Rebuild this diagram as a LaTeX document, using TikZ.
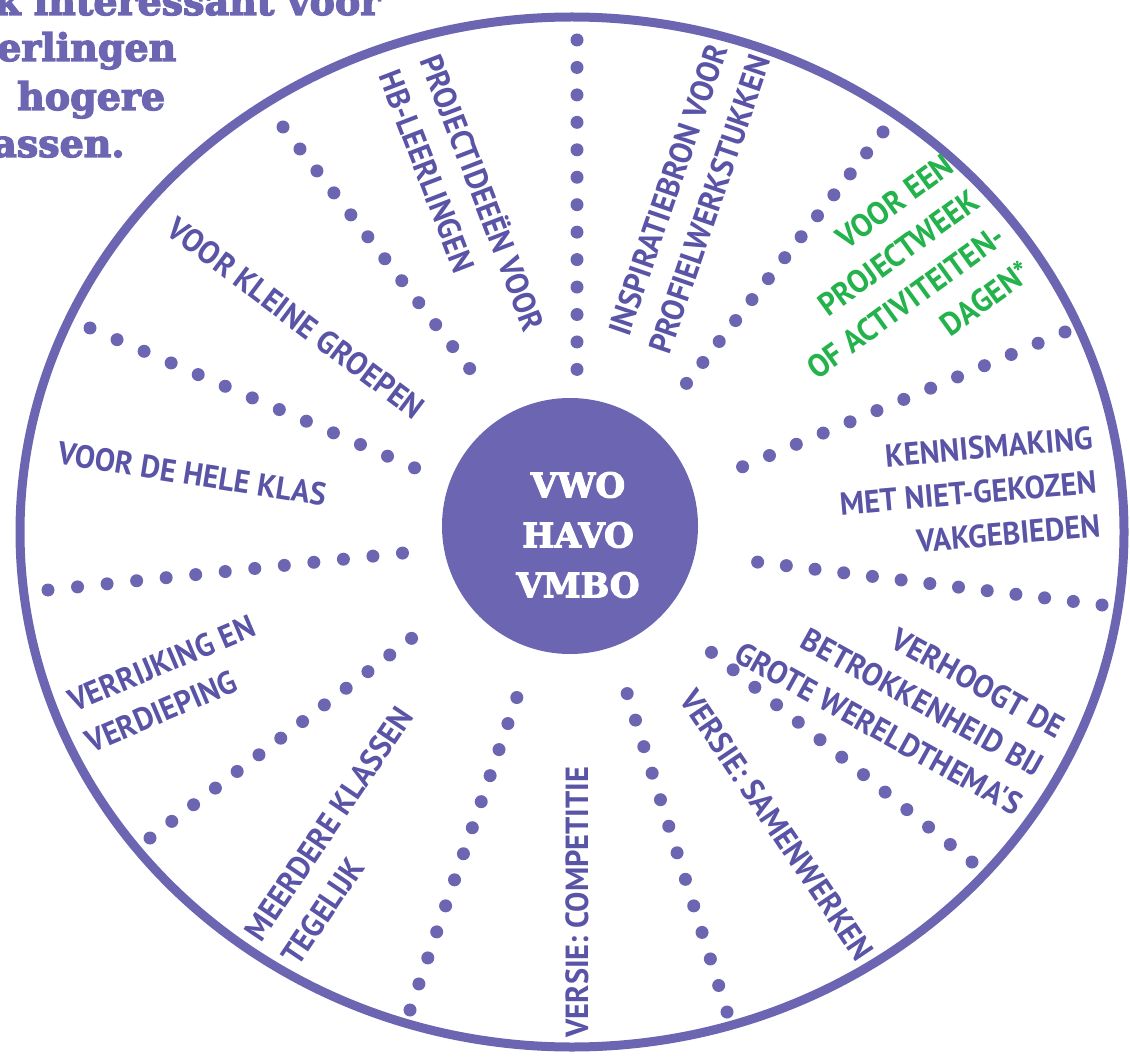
\documentclass[tikz,border=0pt]{standalone}
\usepackage{fontspec}
\usepackage{xcolor}
\usepackage{tikz}
\usetikzlibrary{positioning}
\newfontfamily\labelfont[FakeStretch=0.95]{PT Sans}
\newfontfamily\slabfont[FakeBold=3.5]{DejaVu Serif Bold}
\definecolor{WheelPurple}{HTML}{6B65B2}
\definecolor{WheelInk}{HTML}{5A54A6}
\definecolor{WheelGreen}{HTML}{23B24C}

\begin{document}
\begin{tikzpicture}[
    x=1pt, y=-1pt,
    every node/.style={inner sep=0pt},
    lbl/.style={font=\labelfont\bfseries\fontsize{32}{44}\selectfont,text=WheelInk,align=center},
    head/.style={font=\slabfont\fontsize{38}{48}\selectfont,text=WheelPurple,anchor=base west},
    hub/.style={circle,fill=WheelPurple,minimum size=256pt},
    levels/.style={font=\slabfont\fontsize{34}{50}\selectfont,text=white,align=center},
    rim/.style={draw=WheelPurple,line width=9pt},
    dotray/.style={draw=WheelPurple,line width=13pt,line cap=round,dash pattern=on 0pt off #1}
  ]
  \useasboundingbox (0,0) rectangle (1130,1059);

  % outer rim and hub
  \coordinate (mid) at (572,532);
  \draw[rim] (mid) ellipse [x radius=552pt,y radius=515pt];
  \node[hub] (hub) at (570,526) {};
  \node[levels] (levels) at (578,535) {VWO\\HAVO\\VMBO};

  % spokes
  \coordinate (r1a) at (577,40);   \coordinate (r1b) at (577,370);
  \coordinate (r2a) at (283,127);  \coordinate (r2b) at (470,369);
  \coordinate (r3a) at (90,328);   \coordinate (r3b) at (415,468);
  \coordinate (r4a) at (48,590);   \coordinate (r4b) at (403,553);
  \coordinate (r5a) at (150,838);  \coordinate (r5b) at (412,638);
  \coordinate (r6a) at (410,1010); \coordinate (r6b) at (517,697);
  \coordinate (r7a) at (727,1012); \coordinate (r7b) at (627,693);
  \coordinate (r8a) at (972,862);  \coordinate (r8b) at (711,652);
  \coordinate (r9a) at (1102,605); \coordinate (r9b) at (757,562);
  \coordinate (r10a) at (1065,332); \coordinate (r10b) at (742,467);
  \coordinate (r11a) at (883,132); \coordinate (r11b) at (686,384);

  \draw[dotray=27.45pt] (r1a) -- (r1b);
  \draw[dotray=27.75pt] (r2a) -- (r2b);
  \draw[dotray=29.45pt] (r3a) -- (r3b);
  \draw[dotray=29.70pt] (r4a) -- (r4b);
  \draw[dotray=27.42pt] (r5a) -- (r5b);
  \draw[dotray=27.52pt] (r6a) -- (r6b);
  \draw[dotray=27.81pt] (r7a) -- (r7b);
  \draw[dotray=27.87pt] (r8a) -- (r8b);
  \draw[dotray=28.92pt] (r9a) -- (r9b);
  \draw[dotray=29.12pt] (r10a) -- (r10b);
  \draw[dotray=26.59pt] (r11a) -- (r11b);

  % sector labels
  \node[lbl,rotate=-69,align=left] (hb) at (464,200) {PROJECTIDEEËN VOOR\\HB-LEERLINGEN};
  \node[lbl,rotate=-37] (klein) at (296,318) {VOOR KLEINE GROEPEN};
  \node[lbl,rotate=-9] (klas) at (192,474) {VOOR DE HELE KLAS};
  \node[lbl,rotate=23,align=left] (verrijk) at (170,684) {VERRIJKING EN\\VERDIEPING};
  \node[lbl,rotate=56,align=left] (meer) at (347,836) {MEERDERE KLASSEN\\TEGELIJK};
  \node[lbl,rotate=90] (comp) at (577,902) {VERSIE: COMPETITIE};
  \node[lbl,rotate=-56] (samen) at (777,825) {VERSIE: SAMENWERKEN};
  \node[lbl,rotate=-29,align=right] (wereld) at (900,690) {VERHOOGT DE\\BETROKKENHEID BIJ\\GROTE WERELDTHEMA'S};
  \node[lbl,rotate=5,align=right] (kennis) at (968,493) {KENNISMAKING\\MET NIET-GEKOZEN\\VAKGEBIEDEN};
  \node[lbl,rotate=36,align=right,text=WheelGreen] (project) at (893,284) {VOOR EEN\\PROJECTWEEK\\OF ACTIVITEITEN-\\DAGEN*};
  \node[lbl,rotate=71] (pws) at (689,197) {INSPIRATIEBRON VOOR\\PROFIELWERKSTUKKEN};

  % heading, cut off at the page edge
  \node[head] (headA) at (-6,15) {k interessant voor};
  \node[head] (headB) at (-3,61) {erlingen};
  \node[head] (headC) at (17,110) {hogere};
  \node[head] (headD) at (-8,157) {assen.};
\end{tikzpicture}
\end{document}
